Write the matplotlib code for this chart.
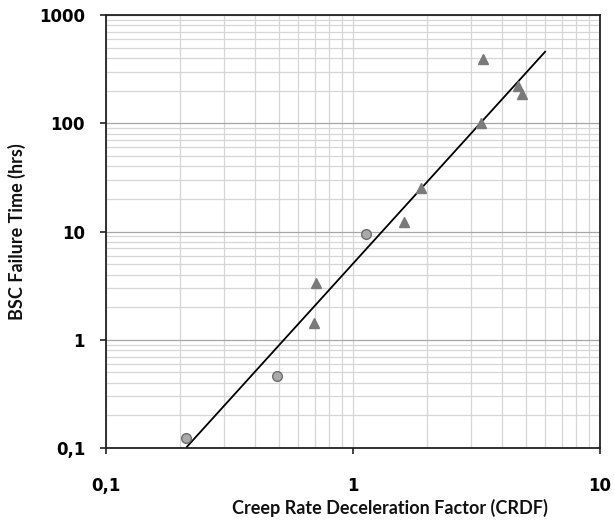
import matplotlib
matplotlib.use("Agg")
import matplotlib.pyplot as plt
from matplotlib.ticker import LogLocator, FuncFormatter, NullFormatter

# CRDF vs. BSC failure time
tri_crdf = [3.37, 4.64, 4.83, 3.31, 1.89, 1.61, 0.709, 0.695]
tri_time = [390, 221, 186, 100, 25.1, 12.3, 3.36, 1.42]
circ_crdf = [1.13, 0.494, 0.211]
circ_time = [9.5, 0.466, 0.123]

# power-law fit, drawn between its end points
fit_crdf = [0.213, 6.0]
fit_time = [0.103, 458]

fig = plt.figure(figsize=(6.14, 5.21), dpi=100)
ax = fig.add_axes([0.1726, 0.1401, 0.8045, 0.8311])

ax.set_xscale('log')
ax.set_yscale('log')
ax.set_xlim(0.1, 10)
ax.set_ylim(0.1, 1000)

ax.grid(which='minor', color='#d6d6d6', lw=0.9)
ax.grid(which='major', axis='y', color='#a6a6a6', lw=0.9)
ax.grid(which='major', axis='x', color='#d6d6d6', lw=0.9)
ax.set_axisbelow(True)

ax.plot(fit_crdf, fit_time, color='black', lw=1.3, zorder=3)
ax.plot(tri_crdf, tri_time, linestyle='none', marker='^', ms=7.5,
        color='#7a7a7a', mec='#7a7a7a', zorder=4)
ax.plot(circ_crdf, circ_time, linestyle='none', marker='o', ms=7,
        mfc='#a9a9a9', mec='#6e6e6e', mew=1.0, zorder=4)

comma = FuncFormatter(lambda v, p: ('%g' % v).replace('.', ','))
ax.xaxis.set_major_locator(LogLocator(base=10))
ax.yaxis.set_major_locator(LogLocator(base=10))
ax.xaxis.set_major_formatter(comma)
ax.yaxis.set_major_formatter(comma)
ax.xaxis.set_minor_formatter(NullFormatter())
ax.yaxis.set_minor_formatter(NullFormatter())

ax.tick_params(which='major', direction='out', length=4.5, width=1.2,
               color='#222222')
ax.tick_params(which='minor', length=0)
ax.tick_params(axis='y', pad=10.5)
ax.tick_params(axis='x', pad=16.5)
for lab in ax.get_xticklabels() + ax.get_yticklabels():
    lab.set_fontfamily('DejaVu Sans')
    lab.set_fontweight('bold')
    lab.set_fontsize(12)

for s in ax.spines.values():
    s.set_color('#222222')
    s.set_linewidth(1.3)

ax.set_xlabel('Creep Rate Deceleration Factor (CRDF)', fontsize=13,
              family=['Lato', 'DejaVu Sans'], fontweight='bold', color='#111111')
ax.set_ylabel('BSC Failure Time (hrs)', fontsize=13,
              family=['Lato', 'DejaVu Sans'], fontweight='bold', color='#111111')
ax.xaxis.set_label_coords(0.575, -0.118)
ax.yaxis.set_label_coords(-0.162, 0.5)

fig.savefig('out.png', dpi=100)
